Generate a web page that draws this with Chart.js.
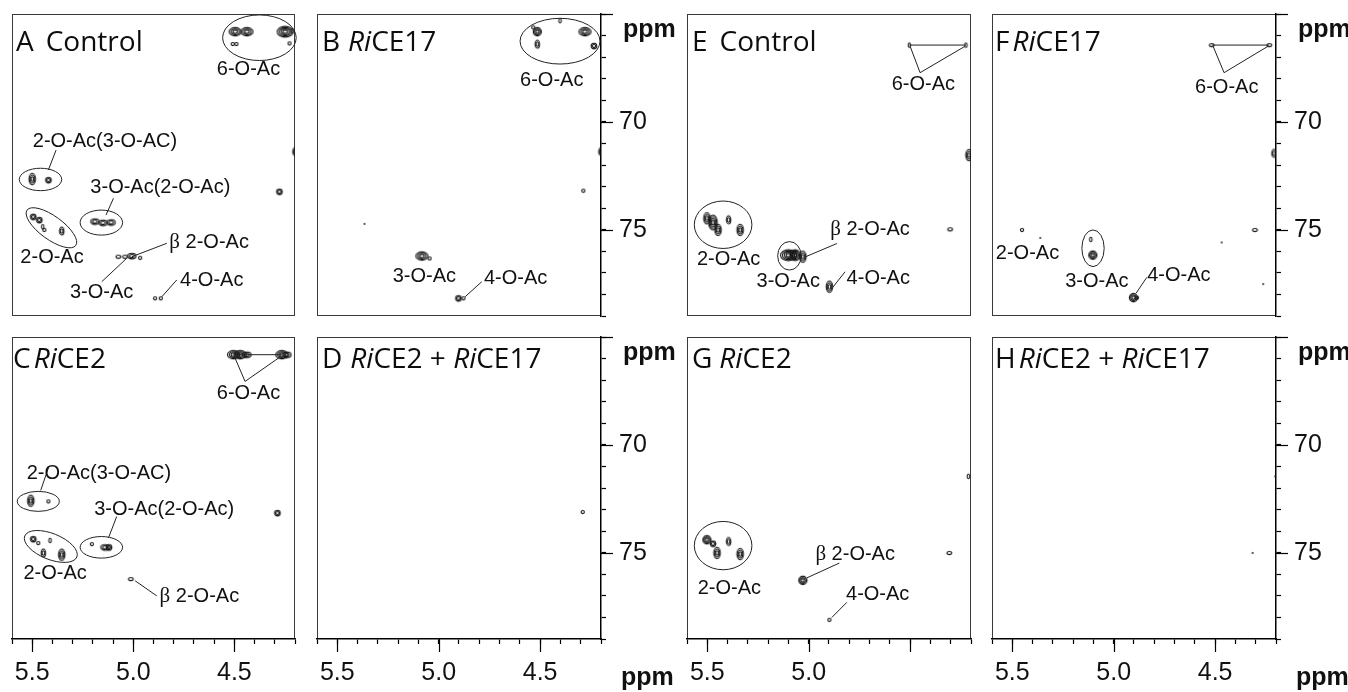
<!DOCTYPE html>
<html><head><meta charset="utf-8">
<script src="https://cdn.jsdelivr.net/npm/chart.js@4.4.0/dist/chart.umd.min.js"></script>
<style>
html,body{margin:0;padding:0;background:#fff;}
body{width:1348px;height:692px;position:relative;overflow:hidden;}
</style></head><body>
<script>
// ---------- DATA (ppm: [1H, 13C, contour levels, peak shape]) ----------
const xTickLabels = [5.5, 5.0, 4.5];
const xTickLabelsG = [5.5, 5.0];
const yTickLabels = [70, 75];

const peaksA = [
  [4.496,65.82,3,'h'],[4.438,65.82,3,'h'],[4.249,65.82,4,'h'],[4.215,65.78,1,'v'],
  [4.508,66.39,1,'o'],[4.490,66.39,1,'o'],[4.227,66.36,1,'o'],
  [4.200,71.38,2,'v'],[4.277,73.24,2,'o'],
  [5.500,72.65,3,'v'],[5.420,72.70,2,'o'],
  [5.190,74.62,2,'h'],[5.150,74.68,2,'h'],[5.110,74.66,2,'h'],
  [5.495,74.40,2,'o'],[5.465,74.55,2,'o'],[5.448,74.86,1,'v'],[5.440,75.01,1,'o'],[5.354,75.06,2,'v'],
  [5.074,76.25,1,'h'],[5.041,76.25,1,'h'],[5.007,76.22,2,'h'],[4.966,76.30,1,'o'],
  [4.892,78.18,1,'o'],[4.864,78.18,1,'o']
];
const peaksB = [
  [4.514,65.82,3,'o'],[4.514,66.40,2,'v'],[4.279,65.82,3,'h'],[4.235,66.48,2,'o'],
  [4.402,65.31,1,'v'],[4.534,65.62,1,'o'],
  [4.200,71.38,2,'v'],[4.287,73.19,1,'o'],[5.366,74.73,0,'o'],
  [5.083,76.22,3,'h'],[5.045,76.33,1,'o'],
  [4.903,78.18,2,'o'],[4.878,78.18,1,'o']
];
const peaksC = [
  [4.504,65.82,3,'h'],[4.471,65.82,3,'h'],[4.438,65.82,2,'h'],[4.265,65.82,3,'h'],[4.240,65.82,2,'h'],
  [5.507,72.59,3,'v'],[5.420,72.62,1,'o'],[4.287,73.16,2,'o'],
  [5.205,74.60,1,'o'],[5.140,74.75,2,'h'],[5.120,74.75,2,'o'],
  [5.495,74.37,2,'o'],[5.470,74.55,1,'o'],[5.445,75.01,2,'v'],[5.412,74.43,1,'v'],[5.354,75.09,3,'v'],
  [5.012,76.22,1,'h']
];
const peaksD = [[4.290,73.11,1,'o']];
const peaksE = [
  [4.504,66.44,1,'v'],[4.225,66.44,1,'v'],
  [4.210,71.54,3,'v'],[4.303,74.98,1,'h'],
  [5.502,74.47,3,'v'],[5.472,74.67,4,'v'],[5.447,75.01,3,'v'],[5.395,74.54,2,'v'],[5.338,75.01,3,'v'],
  [5.100,76.18,4,'h'],[5.067,76.18,4,'o'],[5.029,76.25,3,'v'],
  [4.898,77.64,3,'v']
];
const peaksF = [
  [4.517,66.44,1,'h'],[4.233,66.44,1,'h'],
  [4.210,71.46,2,'v'],[4.304,75.01,1,'h'],[4.468,75.59,0,'o'],[4.263,77.52,0,'o'],
  [5.452,75.01,1,'o'],[5.362,75.38,0,'o'],
  [5.113,75.45,1,'v'],[5.103,76.18,3,'o'],
  [4.903,78.15,3,'o'],[4.885,78.15,1,'o']
];
const peaksG = [
  [4.213,71.46,1,'v'],[4.307,75.01,1,'h'],
  [5.502,74.40,3,'o'],[5.472,74.58,2,'o'],[5.452,75.01,3,'v'],[5.395,74.48,2,'v'],[5.338,75.06,3,'v'],
  [5.029,76.28,3,'o'],
  [4.898,78.11,1,'o']
];
const peaksH = [[4.315,75.01,0,'o'],[4.204,71.46,0,'o']];

// group outlines: [1H centre, 13C centre, 1H half-width, 13C half-height, tilt deg]
const ringsA = [[4.376,66.10,0.182,1.057,0],[5.459,72.67,0.105,0.52,0],[5.158,74.67,0.105,0.58,0],[5.405,74.91,0.149,0.54,36]];
const ringsB = [[4.402,66.26,0.197,1.06,0]];
const ringsC = [[5.470,72.62,0.104,0.464,0],[5.158,74.75,0.105,0.50,0],[5.408,74.71,0.139,0.60,22]];
const ringsE = [[5.422,74.77,0.142,1.10,0],[5.095,76.21,0.058,0.66,0]];
const ringsF = [[5.102,75.86,0.055,0.85,0]];
const ringsG = [[5.422,74.67,0.142,1.12,0]];

// leader lines: [[1H,13C],[1H,13C]]
const leadersA = [[[5.382,71.31],[5.420,72.23]],[[5.098,73.54],[5.135,74.32]],[[4.834,75.63],[5.007,76.25]],[[5.156,77.41],[5.032,76.32]],[[4.785,77.33],[4.859,78.11]]];
const leadersB = [[[4.788,77.41],[4.870,78.11]]];
const leadersC = [[[4.504,65.82],[4.265,65.82]],[[4.447,67.06],[4.500,65.90]],[[4.447,67.06],[4.270,65.90]],[[5.420,71.07],[5.458,72.11]],[[5.082,73.32],[5.123,74.32]],[[4.991,76.30],[4.884,77.00]]];
const leadersE = [[[4.504,66.44],[4.225,66.44]],[[4.451,67.72],[4.500,66.50]],[[4.451,67.72],[4.230,66.50]],[[4.861,75.64],[5.017,76.26]],[[4.821,76.95],[4.881,77.67]]];
const leadersF = [[[4.517,66.44],[4.233,66.44]],[[4.456,67.72],[4.510,66.50]],[[4.456,67.72],[4.240,66.50]],[[4.837,77.21],[4.890,77.95]]];
const leadersG = [[[4.849,75.48],[5.010,76.17]],[[4.812,77.30],[4.886,78.00]]];

// assignment labels: [text, 1H, 13C]
const labelsA = [['6-O-Ac',4.43,67.56],['2-O-Ac(3-O-AC)',5.14,70.92],['3-O-Ac(2-O-Ac)',4.866,73.04],['2-O-Ac',5.402,76.29],['β 2-O-Ac',4.625,75.59],['3-O-Ac',5.157,77.91],['4-O-Ac',4.612,77.37]];
const labelsB = [['6-O-Ac',4.443,68.06],['3-O-Ac',5.071,77.18],['4-O-Ac',4.621,77.25]];
const labelsC = [['6-O-Ac',4.43,67.60],['2-O-Ac(3-O-AC)',5.17,71.31],['3-O-Ac(2-O-Ac)',4.847,73.01],['2-O-Ac',5.387,75.98],['β 2-O-Ac',4.673,77.03]];
const labelsE = [['6-O-Ac',4.435,68.25],['2-O-Ac',5.395,76.40],['β 2-O-Ac',4.698,75.01],['3-O-Ac',5.101,77.38],['4-O-Ac',4.657,77.24]];
const labelsF = [['6-O-Ac',4.443,68.41],['2-O-Ac',5.425,76.08],['3-O-Ac',5.083,77.41],['4-O-Ac',4.679,77.10]];
const labelsG = [['2-O-Ac',5.391,76.64],['β 2-O-Ac',4.771,75.08],['4-O-Ac',4.66,76.93]];

// panel titles: [text, italic]
const titleA = [['A',0],['Control',0]];
const titleB = [['B',0],['Ri',1],['CE17',0]];
const titleC = [['C',0],['Ri',1],['CE2',0]];
const titleD = [['D',0],['Ri',1],['CE2 + ',0],['Ri',1],['CE17',0]];
const titleE = [['E',0],['Control',0]];
const titleF = [['F',0],['Ri',1],['CE17',0]];
const titleG = [['G',0],['Ri',1],['CE2',0]];
const titleH = [['H',0],['Ri',1],['CE2 + ',0],['Ri',1],['CE17',0]];

// ---------- LAYOUT ----------
const PAD = 8, AXW = 80, AXH = 53;
const panels = [
  {id:'A', left:12,  top:14,  w:283, h:302, tx:4, gap:12, peaks:peaksA, rings:ringsA, leaders:leadersA, labels:labelsA, title:titleA},
  {id:'B', left:317, top:14,  w:284, h:302, tx:5, gap:8, yAxis:true, peaks:peaksB, rings:ringsB, leaders:leadersB, labels:labelsB, title:titleB},
  {id:'C', left:12,  top:337, w:283, h:302, tx:1, gap:3, xAxis:xTickLabels, peaks:peaksC, rings:ringsC, leaders:leadersC, labels:labelsC, title:titleC},
  {id:'D', left:317, top:337, w:284, h:302, tx:5, gap:8, xAxis:xTickLabels, yAxis:true, peaks:peaksD, rings:[], leaders:[], labels:[], title:titleD},
  {id:'E', left:687, top:14,  w:284, h:302, tx:5, gap:12, peaks:peaksE, rings:ringsE, leaders:leadersE, labels:labelsE, title:titleE},
  {id:'F', left:992, top:14,  w:284, h:302, tx:3, gap:3, yAxis:true, peaks:peaksF, rings:ringsF, leaders:leadersF, labels:labelsF, title:titleF},
  {id:'G', left:687, top:337, w:284, h:302, tx:5, gap:7, xAxis:xTickLabelsG, peaks:peaksG, rings:ringsG, leaders:leadersG, labels:labelsG, title:titleG},
  {id:'H', left:992, top:337, w:284, h:302, tx:3, gap:3, xAxis:xTickLabels, yAxis:true, peaks:peaksH, rings:[], leaders:[], labels:[], title:titleH}
];

const SANS = '"Liberation Sans", Arial, Helvetica, sans-serif';
const TITLEF = '"Open Sans", "Noto Sans", sans-serif';
const INK = '#111';

const SHAPES = {o:[1,1], h:[1.5,1], v:[0.8,1.4]};
const cache = {};
function contourImg(n, s){
  const key = n + s;
  if (cache[key]) return cache[key];
  const [ax, ay] = SHAPES[s] || SHAPES.o;
  const rMax = n === 0 ? 1 : 1.6 + 1.25 * (n - 1);
  const w = Math.ceil(2 * rMax * ax + 4), h = Math.ceil(2 * rMax * ay + 4);
  const c = document.createElement('canvas'); c.width = w; c.height = h;
  const g = c.getContext('2d');
  g.strokeStyle = INK; g.fillStyle = INK; g.lineWidth = 1.05;
  if (n === 0) { g.beginPath(); g.arc(w/2, h/2, 0.9, 0, Math.PI*2); g.fill(); }
  for (let k = 0; k < n; k++) {
    const r = 1.6 + 1.25 * k;
    g.beginPath(); g.ellipse(w/2, h/2, r*ax, r*ay, 0, 0, Math.PI*2); g.stroke();
  }
  cache[key] = c; return c;
}

function annoPlugin(p){
  return {
    id: 'anno' + p.id,
    beforeDraw(chart){
      const ctx = chart.ctx, a = chart.chartArea;
      ctx.save();
      ctx.strokeStyle = '#3a3a3a'; ctx.lineWidth = 1;
      ctx.strokeRect(Math.round(a.left)+0.5, Math.round(a.top)+0.5, Math.round(a.right-a.left)-1, Math.round(a.bottom-a.top)-1);
      ctx.restore();
    },
    afterDraw(chart){
      const ctx = chart.ctx, a = chart.chartArea, xs = chart.scales.x, ys = chart.scales.y;
      ctx.save();
      ctx.strokeStyle = '#222'; ctx.lineWidth = 1;
      for (const e of p.rings){
        const cx = xs.getPixelForValue(e[0]), cy = ys.getPixelForValue(e[1]);
        const rx = Math.abs(xs.getPixelForValue(e[0] + e[2]) - cx);
        const ry = Math.abs(ys.getPixelForValue(e[1] + e[3]) - cy);
        ctx.beginPath(); ctx.ellipse(cx, cy, rx, ry, e[4]*Math.PI/180, 0, Math.PI*2); ctx.stroke();
      }
      for (const l of p.leaders){
        ctx.beginPath();
        ctx.moveTo(xs.getPixelForValue(l[0][0]), ys.getPixelForValue(l[0][1]));
        ctx.lineTo(xs.getPixelForValue(l[1][0]), ys.getPixelForValue(l[1][1]));
        ctx.stroke();
      }
      ctx.fillStyle = '#111'; ctx.textBaseline = 'middle';
      for (const t of p.labels){
        const x = xs.getPixelForValue(t[1]), y = ys.getPixelForValue(t[2]);
        const txt = t[0];
        if (txt.startsWith('β')){
          const rest = txt.slice(1);
          const serif = '21px "Liberation Serif", "DejaVu Serif", serif';
          ctx.font = serif; const wb = ctx.measureText('β').width;
          ctx.font = '20px ' + SANS; const wr = ctx.measureText(rest).width;
          const x0 = x - (wb + wr)/2;
          ctx.textAlign = 'left';
          ctx.font = serif; ctx.fillText('β', x0, y);
          ctx.font = '20px ' + SANS; ctx.fillText(rest, x0 + wb, y);
        } else {
          ctx.font = '20px ' + SANS; ctx.textAlign = 'center';
          ctx.fillText(txt, x, y);
        }
      }
      ctx.textAlign = 'left'; ctx.textBaseline = 'alphabetic'; ctx.fillStyle = '#0d0d0d';
      let tx = a.left + p.tx;
      const ty = a.top + (p.top < 100 ? 37 : 31);
      p.title.forEach((s, i) => {
        ctx.font = (s[1] ? 'italic ' : '') + '28px ' + TITLEF;
        ctx.fillText(s[0], tx, ty);
        tx += ctx.measureText(s[0]).width + (i === 0 ? p.gap : 0);
      });
      ctx.strokeStyle = '#000'; ctx.lineWidth = 1.2;
      if (p.xAxis){
        for (const v of [5.5, 5.0, 4.5]){
          const px = Math.round(xs.getPixelForValue(v)) + 0.5;
          ctx.beginPath(); ctx.moveTo(px, a.bottom); ctx.lineTo(px, a.bottom + 13); ctx.stroke();
        }
      }
      if (p.yAxis){
        for (const v of [65, 70, 75]){
          const py = Math.round(ys.getPixelForValue(v)) + 0.5;
          ctx.beginPath(); ctx.moveTo(a.right, py); ctx.lineTo(a.right + 12, py); ctx.stroke();
        }
        ctx.font = 'bold 25px ' + SANS; ctx.fillStyle = '#111'; ctx.textAlign = 'left';
        ctx.fillText('ppm', a.right + 22, a.top + 23);
        if (p.xAxis) ctx.fillText('ppm', a.right + 20, a.bottom + 46);
      }
      ctx.restore();
    }
  };
}

function zeroPad(s){ s.paddingLeft = 0; s.paddingRight = 0; s.paddingTop = 0; s.paddingBottom = 0; }

function build(){
  for (const p of panels){
    const W = PAD + p.w + (p.yAxis ? AXW : PAD);
    const H = PAD + p.h + (p.xAxis ? AXH : PAD);
    const cv = document.createElement('canvas');
    cv.width = W; cv.height = H;
    cv.style.cssText = `position:absolute;left:${p.left-PAD}px;top:${p.top-PAD}px;width:${W}px;height:${H}px;`;
    document.body.appendChild(cv);
    const data = p.peaks.map(q => ({x:q[0], y:q[1], n:q[2], s:q[3]}));
    const xLabels = p.xAxis || [];
    const xScale = {
      type:'linear', min:4.2, max:5.6, reverse:true, display:!!p.xAxis, position:'bottom',
      grid:{display:true, drawOnChartArea:false, drawTicks:true, tickLength:5, tickColor:'#000', tickWidth:1.2},
      border:{display:true, color:'#000', width:1.5},
      ticks:{stepSize:0.1, autoSkip:false, maxRotation:0, minRotation:0, padding:14, color:'#111',
        font:{family:SANS, size:25},
        callback:(v)=> xLabels.some(l => Math.abs(l - v) < 1e-6) ? Number(v).toFixed(1) : ''},
      afterFit: s => { zeroPad(s); if (p.xAxis) s.height = AXH; }
    };
    const yScale = {
      type:'linear', min:65, max:79, reverse:true, display:!!p.yAxis, position:'right',
      grid:{display:true, drawOnChartArea:false, drawTicks:true, tickLength:5, tickColor:'#000', tickWidth:1.2},
      border:{display:true, color:'#000', width:1.5},
      ticks:{stepSize:1, autoSkip:false, padding:13, color:'#111',
        font:{family:SANS, size:25},
        callback:(v)=> yTickLabels.some(l => Math.abs(l - v) < 1e-6) ? String(Math.round(v)) : ''},
      afterFit: s => { zeroPad(s); if (p.yAxis) s.width = AXW; }
    };
    new Chart(cv, {
      type:'scatter',
      data:{datasets:[{label:p.id, data, clip:0, pointRadius:3, pointHoverRadius:3,
        pointStyle:(c)=> c.raw ? contourImg(c.raw.n, c.raw.s) : 'circle'}]},
      options:{
        responsive:false, animation:false, events:[], devicePixelRatio:1,
        layout:{autoPadding:false, padding:{left:PAD, top:PAD, right:p.yAxis?0:PAD, bottom:p.xAxis?0:PAD}},
        plugins:{legend:{display:false}, tooltip:{enabled:false}, title:{display:false}},
        scales:{x:xScale, y:yScale}
      },
      plugins:[annoPlugin(p)]
    });
  }
}

const fontLoads = ['28px "Open Sans"','italic 28px "Open Sans"','20px "Liberation Sans"','bold 25px "Liberation Sans"','21px "Liberation Serif"']
  .map(f => document.fonts ? document.fonts.load(f).catch(()=>null) : Promise.resolve());
Promise.all(fontLoads).then(build, build);
</script>
</body></html>
